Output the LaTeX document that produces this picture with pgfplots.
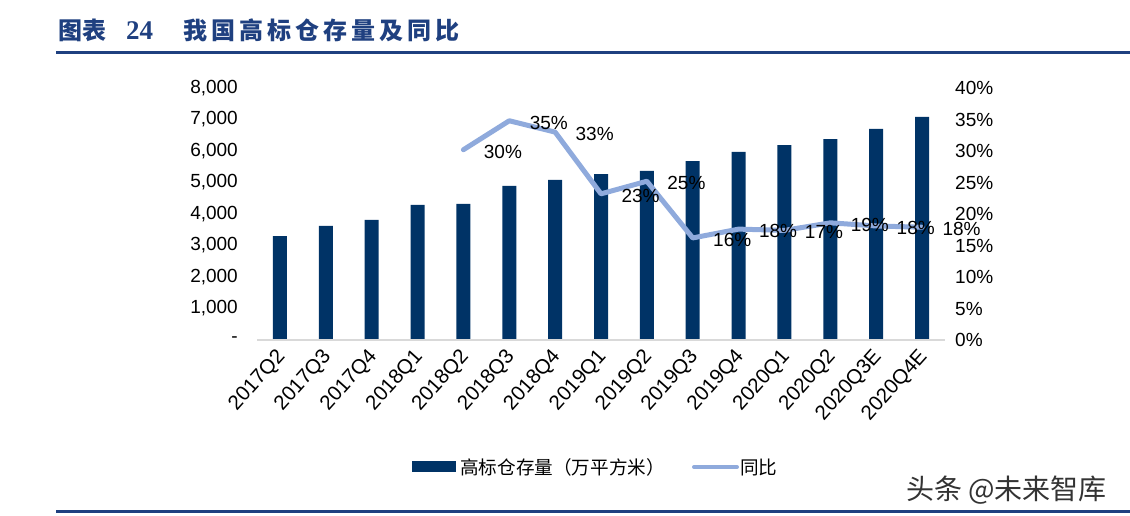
\documentclass[border=0pt]{standalone}
\usepackage{pgfplots}
\pgfplotsset{compat=1.18}
\usepackage{fontspec}
\setmainfont{Liberation Sans}
\newfontfamily\cjk{Noto Sans CJK SC}
\newfontfamily\serifnum{Liberation Serif}

\definecolor{barblue}{RGB}{0,51,102}
\definecolor{lineblue}{RGB}{143,170,220}
\definecolor{titleblue}{RGB}{31,64,128}
\definecolor{basegray}{RGB}{217,217,217}

\begin{document}
\begin{tikzpicture}
  \useasboundingbox (0pt,0pt) rectangle (1130pt,-516pt);

  % title
  \node[anchor=west, inner sep=0pt, text=titleblue] at (58pt,-30pt)
    {\fontsize{24}{26}\selectfont\cjk\bfseries 图表};
  \node[anchor=west, inner sep=0pt, text=titleblue] at (126pt,-31pt)
    {\fontsize{27}{28}\selectfont\serifnum\bfseries 24};
  \node[anchor=west, inner sep=0pt, text=titleblue] at (183pt,-30pt)
    {\fontsize{24}{26}\selectfont\cjk\bfseries\addfontfeature{LetterSpace=17}我国高标仓存量及同比};
  \fill[titleblue] (56pt,-51.5pt) rectangle (1130pt,-54.5pt);
  \fill[titleblue] (56pt,-509.5pt) rectangle (1130pt,-512.5pt);

  % bars, left axis
  \begin{axis}[
    at={(257pt,-340pt)}, anchor=south west,
    scale only axis, width=688pt, height=252pt,
    xmin=-0.5, xmax=14.5, ymin=0, ymax=8000,
    axis line style={draw=none}, tick style={draw=none},
    ytick={0,1000,...,8000},
    yticklabels={-,{1,000},{2,000},{3,000},{4,000},{5,000},{6,000},{7,000},{8,000}},
    yticklabel style={font=\fontsize{19}{21}\selectfont, anchor=east, inner sep=0pt, xshift=-19pt},
    xtick={0,...,14},
    xticklabels={2017Q2,2017Q3,2017Q4,2018Q1,2018Q2,2018Q3,2018Q4,2019Q1,2019Q2,2019Q3,2019Q4,2020Q1,2020Q2,2020Q3E,2020Q4E},
    xticklabel style={font=\fontsize{20.5}{22}\selectfont, inner sep=0pt, xshift=2pt, yshift=-9pt, rotate=48, anchor=east},
    ybar, bar width=14pt,
    clip=false,
  ]
    \addplot[fill=barblue, draw=none] coordinates {
      (0,3300) (1,3620) (2,3810) (3,4290) (4,4320) (5,4890) (6,5080)
      (7,5270) (8,5370) (9,5680) (10,5970) (11,6190) (12,6380) (13,6700) (14,7080)
    };
    \draw[basegray, line width=1.5pt] (axis cs:-0.5,0) -- (axis cs:14.5,0);
  \end{axis}

  % growth line, right axis
  \begin{axis}[
    at={(257pt,-340pt)}, anchor=south west,
    scale only axis, width=688pt, height=252pt,
    xmin=-0.5, xmax=14.5, ymin=0, ymax=40,
    axis line style={draw=none}, tick style={draw=none},
    xtick=\empty,
    axis y line*=right,
    ytick={0,5,...,40},
    yticklabels={0\%,5\%,10\%,15\%,20\%,25\%,30\%,35\%,40\%},
    yticklabel style={font=\fontsize{19}{21}\selectfont, anchor=west, inner sep=0pt, xshift=10pt},
    clip=false,
  ]
    \addplot[lineblue, line width=5pt, line join=round, line cap=round,
      point meta=explicit symbolic,
      nodes near coords={\pgfplotspointmeta\%},
      nodes near coords style={font=\fontsize{19}{21}\selectfont, text=black,
        anchor=west, inner sep=0pt, xshift=18pt, yshift=-2pt}]
      table[meta=lab] {
        x y lab
        4 30.2 30
        5 34.8 35
        6 33.0 33
        7 23.2 23
        8 25.2 25
        9 16.2 16
        10 17.6 18
        11 17.4 17
        12 18.6 19
        13 18.1 18
        14 17.9 18
      };
  \end{axis}

  % legend
  \fill[barblue] (412pt,-461pt) rectangle (456pt,-472pt);
  \node[anchor=west, inner sep=0pt] at (460pt,-467pt)
    {\fontsize{18.6}{20}\selectfont\cjk 高标仓存量（万平方米）};
  \draw[lineblue, line width=4pt, line cap=round] (694pt,-467pt) -- (737pt,-467pt);
  \node[anchor=west, inner sep=0pt] at (740pt,-467pt)
    {\fontsize{18.6}{20}\selectfont\cjk 同比};

  % watermark
  \node[anchor=west, inner sep=0pt, text=black!80] at (906pt,-490pt)
    {\fontsize{28}{30}\selectfont\cjk 头条 @未来智库};
\end{tikzpicture}
\end{document}
